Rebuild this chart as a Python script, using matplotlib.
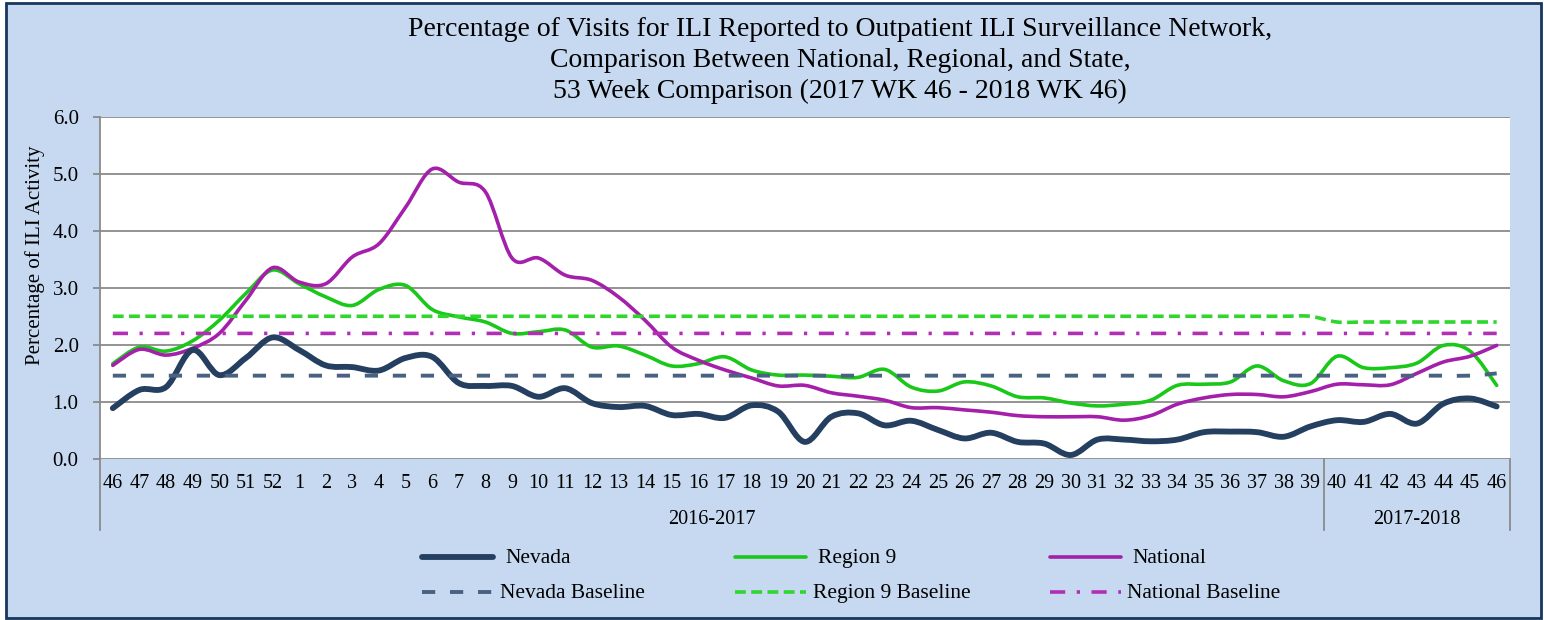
import matplotlib
matplotlib.use("Agg")
import matplotlib.pyplot as plt
from matplotlib.path import Path
from matplotlib.patches import PathPatch, Rectangle
from matplotlib.lines import Line2D
import matplotlib.transforms as mtransforms

# ---------------- data ----------------
weeks = [46, 47, 48, 49, 50, 51, 52] + list(range(1, 47))
seasons = ["2016-2017", "2017-2018"]
season_sizes = [46, 7]

nevada = [0.89, 1.21, 1.26, 1.91, 1.47, 1.77, 2.13, 1.91, 1.64, 1.61, 1.55, 1.77, 1.79,
          1.33, 1.28, 1.28, 1.09, 1.24, 0.98, 0.91, 0.93, 0.77, 0.79, 0.72, 0.94, 0.83,
          0.30, 0.74, 0.80, 0.59, 0.67, 0.51, 0.36, 0.46, 0.30, 0.27, 0.07, 0.34, 0.34,
          0.31, 0.34, 0.47, 0.48, 0.47, 0.39, 0.57, 0.68, 0.65, 0.79, 0.62, 0.97, 1.06, 0.92]
region9 = [1.67, 1.96, 1.89, 2.07, 2.43, 2.90, 3.31, 3.07, 2.84, 2.69, 2.97, 3.04, 2.62,
           2.49, 2.40, 2.20, 2.23, 2.26, 1.96, 1.98, 1.82, 1.63, 1.67, 1.79, 1.56, 1.47,
           1.47, 1.45, 1.43, 1.57, 1.26, 1.19, 1.35, 1.28, 1.09, 1.07, 0.98, 0.93, 0.96,
           1.03, 1.29, 1.31, 1.35, 1.63, 1.37, 1.32, 1.80, 1.60, 1.60, 1.68, 1.99, 1.89, 1.29]
national = [1.64, 1.92, 1.82, 1.94, 2.20, 2.78, 3.35, 3.10, 3.07, 3.54, 3.77, 4.41, 5.08,
            4.85, 4.68, 3.52, 3.52, 3.22, 3.13, 2.84, 2.43, 1.96, 1.73, 1.56, 1.42, 1.28,
            1.29, 1.16, 1.10, 1.03, 0.90, 0.90, 0.86, 0.82, 0.76, 0.74, 0.74, 0.74, 0.68,
            0.76, 0.96, 1.07, 1.13, 1.13, 1.09, 1.18, 1.31, 1.30, 1.30, 1.50, 1.70, 1.80, 1.99]
nevada_base = [1.46] * 52 + [1.50]
region9_base = [2.5] * 46 + [2.4] * 7
national_base = [2.2] * 53

yticks = [0.0, 1.0, 2.0, 3.0, 4.0, 5.0, 6.0]
title = ("Percentage of Visits for ILI Reported to Outpatient ILI Surveillance Network,\n"
         "Comparison Between National, Regional, and State,\n"
         "53 Week Comparison (2017 WK 46 - 2018 WK 46)")
ylabel = "Percentage of ILI Activity"

# ---------------- style ----------------
FONT = "Liberation Serif"
BG = "#C6D9F0"
GRID = "#8A8A8A"
C_NV = "#243F60"
C_NVB = "#4A6282"
C_R9 = "#1AC81A"
C_R9B = "#2ED62E"
C_NA = "#A41FAA"
C_NAB = "#B02FB4"

W, H = 1544, 620
fig = plt.figure(figsize=(W / 100, H / 100), dpi=100, facecolor="white")

# outer blue frame
fig.add_artist(Rectangle((6 / W, 1 - 618 / H), (1541 - 6) / W, (618 - 3) / H,
                         transform=fig.transFigure, facecolor=BG, edgecolor="#17365D",
                         linewidth=2.0, zorder=0))

ax_l, ax_r, ax_t, ax_b = 99.5, 1510, 116.5, 459
ax = fig.add_axes([ax_l / W, 1 - ax_b / H, (ax_r - ax_l) / W, (ax_b - ax_t) / H])
ax.set_facecolor("white")
ax.set_zorder(1)

x = list(range(len(weeks)))


def smooth_path(xs, ys):
    verts = [(xs[0], ys[0])]
    codes = [Path.MOVETO]
    n = len(xs)
    for i in range(n - 1):
        a = i - 1 if i > 0 else i
        d = i + 2 if i + 2 < n else i + 1
        c1 = (xs[i] + (xs[i + 1] - xs[a]) / 6.0, ys[i] + (ys[i + 1] - ys[a]) / 6.0)
        c2 = (xs[i + 1] - (xs[d] - xs[i]) / 6.0, ys[i + 1] - (ys[d] - ys[i]) / 6.0)
        verts += [c1, c2, (xs[i + 1], ys[i + 1])]
        codes += [Path.CURVE4] * 3
    return Path(verts, codes)


def draw(ys, color, lw, ls="-", z=3, cap="round"):
    p = PathPatch(smooth_path(x, ys), fill=False, edgecolor=color, linewidth=lw,
                  linestyle=ls, capstyle=cap, joinstyle="round", zorder=z)
    ax.add_patch(p)


NV_STYLE = dict(color=C_NV, lw=4.2, ls="-")
R9_STYLE = dict(color=C_R9, lw=2.6, ls="-")
NA_STYLE = dict(color=C_NA, lw=2.6, ls="-")
NVB_STYLE = dict(color=C_NVB, lw=2.8, ls=(0, (3.4, 3.8)))
R9B_STYLE = dict(color=C_R9B, lw=2.6, ls=(0, (3.0, 1.5)))
NAB_STYLE = dict(color=C_NAB, lw=2.6, ls=(0, (4.2, 3.2, 0.9, 3.2)))

draw(region9, z=3, **R9_STYLE)
draw(national, z=4, **NA_STYLE)
draw(nevada, z=5, **NV_STYLE)
draw(nevada_base, z=6, cap="butt", **NVB_STYLE)
draw(region9_base, z=6, cap="butt", **R9B_STYLE)
draw(national_base, z=6, cap="butt", **NAB_STYLE)

ax.set_xlim(-0.5, len(weeks) - 0.5)
ax.set_ylim(0, 6)
ax.set_yticks(yticks)
ax.set_yticklabels([f"{v:.1f}" for v in yticks], fontfamily=FONT, fontsize=15)
ax.set_xticks(x)
ax.set_xticklabels([str(w) for w in weeks], fontfamily=FONT, fontsize=14.5)
ax.tick_params(axis="x", length=0, pad=11)
ax.tick_params(axis="y", length=5, width=1.3, color=GRID, direction="out", pad=10)
ax.grid(axis="y", color=GRID, linewidth=1.3, zorder=1)
ax.set_axisbelow(True)
for s in ["top", "right", "bottom"]:
    ax.spines[s].set_visible(False)
ax.spines["left"].set_color(GRID)
ax.spines["left"].set_linewidth(1.3)

# category group lines and labels
trans = mtransforms.blended_transform_factory(ax.transData, ax.transAxes)
ybot = -(530 - ax_b) / (ax_b - ax_t)
start = 0
bounds = [-0.5]
for name, size in zip(seasons, season_sizes):
    end = start + size
    bounds.append(end - 0.5)
    ax.text((start + end - 1) / 2.0, -(519 - ax_b) / (ax_b - ax_t), name, transform=trans,
            ha="center", va="center", fontfamily=FONT, fontsize=14.5)
    start = end
for b in bounds:
    ax.add_line(Line2D([b, b], [0, ybot], transform=trans, color=GRID, linewidth=1.3,
                       clip_on=False))

# titles
fig.text(840 / W, 1 - 60.5 / H, title, ha="center", va="center", fontfamily=FONT,
         fontsize=20, linespacing=1.31)
fig.text(35 / W, 1 - 255 / H, ylabel, ha="center", va="center", rotation=90,
         fontfamily=FONT, fontsize=15)

# legend (manual layout)
legend_items = [
    ("Nevada", NV_STYLE, 422, 557, 505),
    ("Region 9", R9_STYLE, 735, 557, 818),
    ("National", NA_STYLE, 1050, 557, 1132),
    ("Nevada Baseline", NVB_STYLE, 422, 592, 500),
    ("Region 9 Baseline", R9B_STYLE, 735, 592, 813),
    ("National Baseline", NAB_STYLE, 1050, 592, 1127),
]
for label, st, lx, ly, tx in legend_items:
    fig.add_artist(Line2D([lx / W, (lx + 71) / W], [1 - ly / H, 1 - ly / H],
                          transform=fig.transFigure, color=st["color"], linewidth=st["lw"],
                          linestyle=st["ls"], solid_capstyle="round",
                          dash_capstyle="butt"))
    fig.text(tx / W, 1 - (ly + 1.5) / H, label, ha="left", va="center", fontfamily=FONT,
             fontsize=15.5)

fig.savefig("out.png", dpi=100, facecolor="white")
